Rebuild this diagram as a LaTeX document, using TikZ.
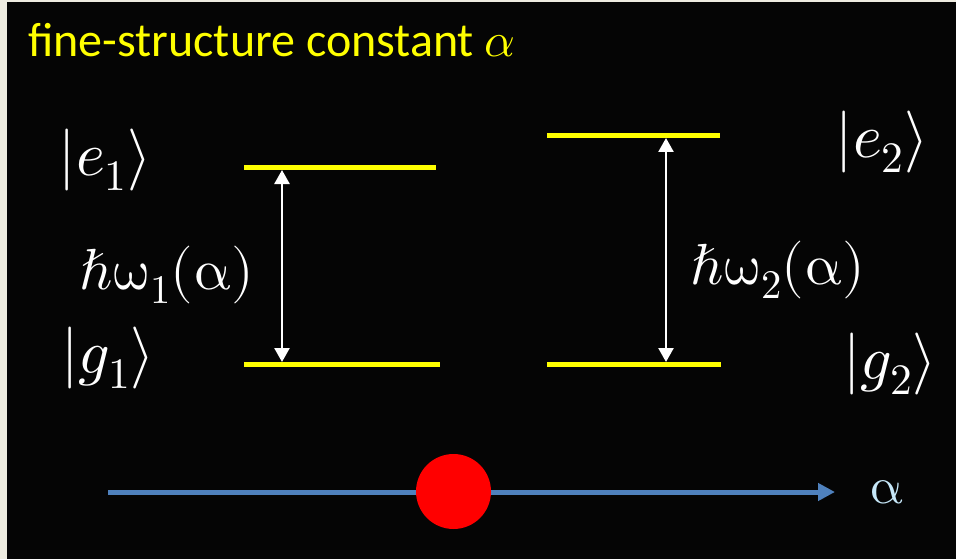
\documentclass[tikz,border=0pt]{standalone}
\usepackage{fontspec}
\usepackage{unicode-math}
\setmainfont{Carlito}
\setmathfont{Latin Modern Math}
\usetikzlibrary{arrows.meta}
\definecolor{framecol}{HTML}{EEECE1}
\definecolor{bgcol}{HTML}{050505}
\definecolor{lvlcol}{HTML}{FFFF00}
\definecolor{axiscol}{HTML}{4F81BD}
\definecolor{lbluecol}{HTML}{C6E7F8}
\begin{document}
\begin{tikzpicture}[x=1pt,y=-1pt,
  level/.style={lvlcol, line width=5pt},
  trans/.style={white, line width=2.5pt, {Triangle[width=15pt,length=14pt]}-{Triangle[width=15pt,length=14pt]}},
  ketlbl/.style={white, inner sep=0pt, font=\fontsize{62}{62}\selectfont},
  energy/.style={white, inner sep=0pt, font=\fontsize{58}{58}\selectfont}]
\useasboundingbox (0,0) rectangle (956,559);
\fill[framecol] (0,0) rectangle (956,559);
\fill[bgcol] (7,2) rectangle (956,559);
\node[anchor=base west, lvlcol, inner sep=0pt, font=\fontsize{48}{48}\selectfont] (title) at (28,57) {fine-structure constant $\alpha$};
% levels
\coordinate (e1L) at (244,168); \coordinate (e1R) at (436,168);
\coordinate (g1L) at (244,364); \coordinate (g1R) at (440,364);
\coordinate (e2L) at (547,136); \coordinate (e2R) at (720,136);
\coordinate (g2L) at (547,364); \coordinate (g2R) at (721,364);
\draw[level] (e1L) -- (e1R);
\draw[level] (g1L) -- (g1R);
\draw[level] (e2L) -- (e2R);
\draw[level] (g2L) -- (g2R);
\coordinate (a1t) at (282,170); \coordinate (a1b) at (282,362);
\coordinate (a2t) at (666,138); \coordinate (a2b) at (666,362);
\draw[trans] (a1t) -- (a1b);
\draw[trans] (a2t) -- (a2b);
% labels
\node[ketlbl] (k1) at (105,160) {$|e_1\rangle$};
\node[ketlbl] (k2) at (108,358) {$|g_1\rangle$};
\node[ketlbl] (k3) at (882,142) {$|e_2\rangle$};
\node[ketlbl] (k4) at (890,364) {$|g_2\rangle$};
\node[energy] (w1) at (167,275) {$\hbar\upomega_1(\upalpha)$};
\node[energy] (w2) at (778,270) {$\hbar\upomega_2(\upalpha)$};
% axis
\coordinate (ax0) at (108,492); \coordinate (ax1) at (835,492);
\draw[axiscol, line width=5pt, -{Triangle[width=17pt,length=17pt]}] (ax0) -- (ax1);
\fill[red] (453.5,491.5) circle (37.5);
\node[lbluecol, inner sep=0pt, font=\fontsize{52}{52}\selectfont] (al) at (887,492) {$\upalpha$};
\end{tikzpicture}
\end{document}
